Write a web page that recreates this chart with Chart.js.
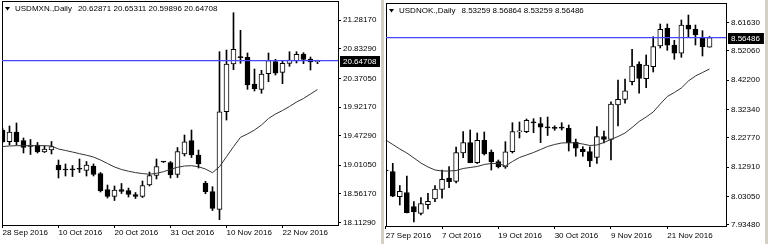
<!DOCTYPE html>
<html>
<head>
<meta charset="utf-8">
<script src="https://cdn.jsdelivr.net/npm/chart.js@4.4.0/dist/chart.umd.min.js"></script>
<style>
  html, body { margin: 0; padding: 0; background: #fff; }
  #wrap { position: relative; width: 768px; height: 244px; overflow: hidden; background: #fff; }
  canvas { position: absolute; top: 0; }
  #mxn { left: 0; }
  #nok { left: 380px; }
  .sep { position: absolute; left: 381px; top: 0; width: 3px; height: 244px; background: #d4d0c8; }
  .edge { position: absolute; left: 765px; top: 0; width: 3px; height: 244px; background: #d4d0c8; }
</style>
</head>
<body>
<div id="wrap">
  <canvas id="mxn" width="380" height="244"></canvas>
  <div class="sep"></div>
  <canvas id="nok" width="388" height="244"></canvas>
  <div class="edge"></div>
</div>
<script>
// USDMXN daily, 28 Sep - 29 Nov 2016
const mxnDates = ['28 Sep 2016','29 Sep 2016','30 Sep 2016','3 Oct 2016','4 Oct 2016','5 Oct 2016','6 Oct 2016','7 Oct 2016',
  '10 Oct 2016','11 Oct 2016','12 Oct 2016','13 Oct 2016','14 Oct 2016','17 Oct 2016','18 Oct 2016','19 Oct 2016',
  '20 Oct 2016','21 Oct 2016','24 Oct 2016','25 Oct 2016','26 Oct 2016','27 Oct 2016','28 Oct 2016','30 Oct 2016',
  '31 Oct 2016','1 Nov 2016','2 Nov 2016','3 Nov 2016','4 Nov 2016','7 Nov 2016','8 Nov 2016','9 Nov 2016',
  '10 Nov 2016','11 Nov 2016','14 Nov 2016','15 Nov 2016','16 Nov 2016','17 Nov 2016','18 Nov 2016','21 Nov 2016',
  '22 Nov 2016','23 Nov 2016','24 Nov 2016','25 Nov 2016','28 Nov 2016','29 Nov 2016'];
const mxnOpen = [19.562, 19.379, 19.531, 19.398, 19.304, 19.328, 19.218, 19.249, 19.015, 18.945, 18.940, 18.948,
  18.929, 18.999, 18.882, 18.632, 18.523, 18.632, 18.616, 18.554, 18.523, 18.702, 18.851, 19.062, 19.054, 18.866,
  19.187, 19.398, 19.171, 18.734, 18.598, 18.322, 19.848, 20.594, 20.694, 20.699, 20.281, 20.198, 20.442, 20.630,
  20.464, 20.605, 20.641, 20.750, 20.672, 20.62871];
const mxnHigh = [19.593, 19.625, 19.672, 19.437, 19.414, 19.367, 19.312, 19.382, 19.093, 19.031, 19.007, 19.109,
  19.070, 19.031, 18.898, 18.702, 18.687, 18.726, 18.655, 18.585, 18.765, 18.905, 19.109, 19.070, 19.070, 19.288,
  19.484, 19.562, 19.249, 18.760, 18.676, 20.786, 20.813, 21.396, 21.121, 20.766, 20.516, 20.495, 20.766, 20.667,
  20.652, 20.786, 20.786, 20.771, 20.703, 20.65311];
const mxnLow = [19.359, 19.328, 19.328, 19.203, 19.179, 19.203, 19.210, 19.187, 18.812, 18.843, 18.835, 18.898,
  18.843, 18.843, 18.593, 18.499, 18.460, 18.569, 18.515, 18.491, 18.507, 18.687, 18.796, 19.054, 18.812, 18.820,
  19.156, 19.132, 18.968, 18.566, 18.304, 18.160, 19.718, 20.505, 20.605, 20.198, 20.172, 20.136, 20.317, 20.422,
  20.286, 20.558, 20.610, 20.599, 20.500, 20.59896];
const mxnClose = [19.379, 19.531, 19.379, 19.289, 19.328, 19.218, 19.265, 19.304, 18.937, 18.937, 18.940, 18.948,
  19.015, 18.866, 18.609, 18.523, 18.624, 18.601, 18.554, 18.523, 18.695, 18.851, 18.992, 19.062, 18.859, 19.226,
  19.379, 19.171, 19.031, 18.598, 18.338, 19.848, 20.594, 20.824, 20.694, 20.266, 20.208, 20.438, 20.646, 20.449,
  20.605, 20.656, 20.747, 20.667, 20.625, 20.64708];
const mxnMA = [19.304, 19.312, 19.317, 19.317, 19.317, 19.317, 19.317, 19.312, 19.265, 19.242, 19.218, 19.192,
  19.168, 19.140, 19.093, 19.038, 18.984, 18.945, 18.918, 18.896, 18.881, 18.870, 18.885, 18.910, 18.948, 18.979,
  18.999, 19.004, 18.988, 18.952, 18.895, 18.988, 19.145, 19.301, 19.448, 19.500, 19.562, 19.640, 19.742, 19.812,
  19.867, 19.930, 19.999, 20.055, 20.125, 20.195];
const mxnTicks = [18.1129, 18.5617, 19.0105, 19.4729, 19.9217, 20.3705, 20.8329, 21.2817];

// USDNOK daily, 27 Sep - 29 Nov 2016
const nokDates = ['27 Sep 2016','28 Sep 2016','29 Sep 2016','30 Sep 2016','3 Oct 2016','4 Oct 2016','5 Oct 2016','6 Oct 2016',
  '7 Oct 2016','10 Oct 2016','11 Oct 2016','12 Oct 2016','13 Oct 2016','14 Oct 2016','17 Oct 2016','18 Oct 2016',
  '19 Oct 2016','20 Oct 2016','21 Oct 2016','24 Oct 2016','25 Oct 2016','26 Oct 2016','27 Oct 2016','28 Oct 2016',
  '30 Oct 2016','31 Oct 2016','1 Nov 2016','2 Nov 2016','3 Nov 2016','4 Nov 2016','7 Nov 2016','8 Nov 2016',
  '9 Nov 2016','10 Nov 2016','11 Nov 2016','14 Nov 2016','15 Nov 2016','16 Nov 2016','17 Nov 2016','18 Nov 2016',
  '21 Nov 2016','22 Nov 2016','23 Nov 2016','24 Nov 2016','25 Nov 2016','28 Nov 2016','29 Nov 2016'];
const nokOpen = [8.1164, 8.1140, 8.0299, 8.0441, 7.9970, 7.9741, 8.0031, 8.0222, 8.0548, 8.0928, 8.0817, 8.1769,
  8.2115, 8.1443, 8.2196, 8.1802, 8.1476, 8.1298, 8.1812, 8.2475, 8.2485, 8.2780, 8.2754, 8.2612, 8.2598, 8.2606,
  8.2599, 8.2128, 8.1893, 8.1819, 8.1624, 8.2317, 8.2229, 8.3383, 8.3574, 8.4166, 8.4761, 8.4267, 8.4670, 8.5366,
  8.5961, 8.5400, 8.5121, 8.6072, 8.5928, 8.5625, 8.53259];
const nokHigh = [8.1634, 8.1422, 8.0676, 8.0995, 8.0131, 8.0273, 8.0414, 8.0676, 8.1197, 8.1308, 8.1970, 8.2485,
  8.2542, 8.2441, 8.2475, 8.1870, 8.1533, 8.2149, 8.2787, 8.2811, 8.2912, 8.2922, 8.2962, 8.2979, 8.2683, 8.2787,
  8.2710, 8.2239, 8.1980, 8.1980, 8.2653, 8.2508, 8.3493, 8.4223, 8.4257, 8.5255, 8.4838, 8.5064, 8.5679, 8.6106,
  8.6106, 8.5558, 8.6240, 8.6408, 8.6072, 8.5881, 8.56864];
const nokLow = [8.0659, 8.0299, 8.0020, 7.9751, 7.9449, 7.9684, 7.9886, 8.0131, 8.0246, 8.0602, 8.0760, 8.1611,
  8.1440, 8.1416, 8.1701, 8.1197, 8.1264, 8.1254, 8.1769, 8.2273, 8.2451, 8.2451, 8.2115, 8.2357, 8.2532, 8.2542,
  8.1836, 8.1658, 8.1658, 8.1308, 8.1422, 8.2105, 8.1533, 8.2677, 8.3440, 8.4055, 8.3776, 8.3964, 8.4492, 8.5299,
  8.5222, 8.4919, 8.4986, 8.5659, 8.5400, 8.5030, 8.53259];
const nokClose = [8.1164, 8.0313, 8.0481, 7.9762, 7.9785, 8.0064, 8.0145, 8.0558, 8.0884, 8.0804, 8.1779, 8.2122,
  8.1443, 8.2196, 8.1735, 8.1476, 8.1298, 8.1812, 8.2485, 8.2518, 8.2868, 8.2780, 8.2633, 8.2612, 8.2598, 8.2606,
  8.2105, 8.1927, 8.1812, 8.1500, 8.2317, 8.2229, 8.3416, 8.3574, 8.3863, 8.4694, 8.4280, 8.4727, 8.5343, 8.5928,
  8.5390, 8.5121, 8.6072, 8.5928, 8.5736, 8.5343, 8.56486];
const nokMA = [8.2206, 8.2055, 8.1903, 8.1769, 8.1601, 8.1432, 8.1298, 8.1197, 8.1163, 8.1163, 8.1180, 8.1248,
  8.1281, 8.1315, 8.1382, 8.1416, 8.1416, 8.1332, 8.1483, 8.1617, 8.1701, 8.1786, 8.1886, 8.1987, 8.2055, 8.2105,
  8.2115, 8.2105, 8.2071, 8.2021, 8.2038, 8.2122, 8.2223, 8.2323, 8.2441, 8.2626, 8.2828, 8.2979, 8.3147, 8.3416,
  8.3668, 8.3803, 8.3954, 8.4189, 8.4358, 8.4475, 8.4593];
const nokTicks = [7.9348, 8.0305, 8.1291, 8.2277, 8.3234, 8.4220, 8.5206, 8.6163];

const labelEvery = [0, 8, 16, 24, 32, 40];
const FONT = '"Liberation Sans", Arial, sans-serif';

Chart.defaults.font.family = FONT;
Chart.defaults.font.size = 8;
Chart.defaults.color = '#000';

function candleChart(id, o) {
  const body = [], wick = [], ma = [], fill = [];
  for (let i = 0; i < o.open.length; i++) {
    body.push({ x: i, y: [o.open[i], o.close[i]] });
    wick.push({ x: i, y: [o.low[i], o.high[i]] });
    ma.push({ x: i, y: o.ma[i] });
    fill.push(o.close[i] > o.open[i] ? '#fff' : '#000');
  }
  const last = o.open.length - 1;

  // frame, bid line, price box and header text
  const overlay = {
    id: 'overlay',
    afterDraw(chart) {
      const c = chart.ctx, a = chart.chartArea, y = chart.scales.y;
      c.save();
      c.strokeStyle = '#000';
      c.lineWidth = 1;
      c.strokeRect(a.left + 0.5, a.top + 0.5, a.right - a.left, a.bottom - a.top);

      const py = y.getPixelForValue(o.close[last]);
      c.strokeStyle = '#4646ff';
      c.lineWidth = 1.4;
      c.beginPath();
      c.moveTo(a.left, py);
      c.lineTo(a.right, py);
      c.stroke();

      const txt = o.close[last].toFixed(5);
      c.font = '8px ' + FONT;
      const tw = c.measureText(txt).width;
      c.fillStyle = '#000';
      c.fillRect(a.right + 2, Math.round(py) - 5, tw + 7, 11);
      c.fillStyle = '#fff';
      c.textBaseline = 'middle';
      c.textAlign = 'left';
      c.fillText(txt, a.right + 5, Math.round(py) + 0.5);

      c.fillStyle = '#000';
      c.beginPath();
      c.moveTo(o.headX - 10, o.headY - 2);
      c.lineTo(o.headX - 5, o.headY - 2);
      c.lineTo(o.headX - 7.5, o.headY + 1.5);
      c.closePath();
      c.fill();
      c.fillText(o.name, o.headX, o.headY);
      const nums = [o.open[last], o.high[last], o.low[last], o.close[last]].map(v => v.toFixed(5)).join(' ');
      c.fillText(nums, o.headX + c.measureText(o.name).width + 6, o.headY);
      c.restore();
    }
  };

  return new Chart(document.getElementById(id), {
    type: 'bar',
    data: {
      datasets: [
        { type: 'line', data: ma, borderColor: '#333', borderWidth: 1, pointRadius: 0, tension: 0, order: 0 },
        { data: body, backgroundColor: fill, borderColor: '#000', borderWidth: 1, borderSkipped: false,
          barThickness: 5, minBarLength: 1, grouped: false, order: 1 },
        { data: wick, backgroundColor: '#000', borderWidth: 0, barThickness: 1, grouped: false, order: 2 }
      ]
    },
    options: {
      responsive: false,
      animation: false,
      devicePixelRatio: 1,
      layout: { padding: { left: o.padLeft, top: o.padTop, right: 0, bottom: 0 } },
      plugins: { legend: { display: false }, tooltip: { enabled: false } },
      scales: {
        x: {
          type: 'linear', min: o.xMin, max: o.xMax, offset: false,
          afterBuildTicks: s => { s.ticks = labelEvery.map(v => ({ value: v })); },
          afterFit: s => { s.height = o.xAxisH; s.paddingLeft = 0; s.paddingRight = 0; },
          grid: { offset: false, drawOnChartArea: false, tickLength: 3, color: '#000' },
          border: { display: false },
          ticks: { autoSkip: false, maxRotation: 0, align: 'start', padding: o.xPad,
                   callback: v => o.dates[v] }
        },
        y: {
          type: 'linear', position: 'right', min: o.yMin, max: o.yMax,
          afterBuildTicks: s => { s.ticks = o.ticks.map(v => ({ value: v })); },
          afterFit: s => { s.width = 42; s.paddingTop = 0; s.paddingBottom = 0; },
          grid: { drawOnChartArea: false, tickLength: 3, color: '#000' },
          border: { display: false },
          ticks: { padding: 2, callback: v => v.toFixed(5) }
        }
      }
    },
    plugins: [overlay]
  });
}

candleChart('mxn', {
  name: 'USDMXN.,Daily', dates: mxnDates, open: mxnOpen, high: mxnHigh, low: mxnLow, close: mxnClose,
  ma: mxnMA, ticks: mxnTicks,
  padLeft: 2, padTop: 1, xAxisH: 19, xPad: 0,
  xMin: -0.07, xMax: 47.93, yMin: 18.077, yMax: 21.579,
  headX: 15, headY: 9
});

candleChart('nok', {
  name: 'USDNOK.,Daily', dates: nokDates, open: nokOpen, high: nokHigh, low: nokLow, close: nokClose,
  ma: nokMA, ticks: nokTicks,
  padLeft: 6, padTop: 3, xAxisH: 18, xPad: 2,
  xMin: 0.04, xMax: 48.34, yMin: 7.9314, yMax: 8.6812,
  headX: 19, headY: 11
});
</script>
</body>
</html>
